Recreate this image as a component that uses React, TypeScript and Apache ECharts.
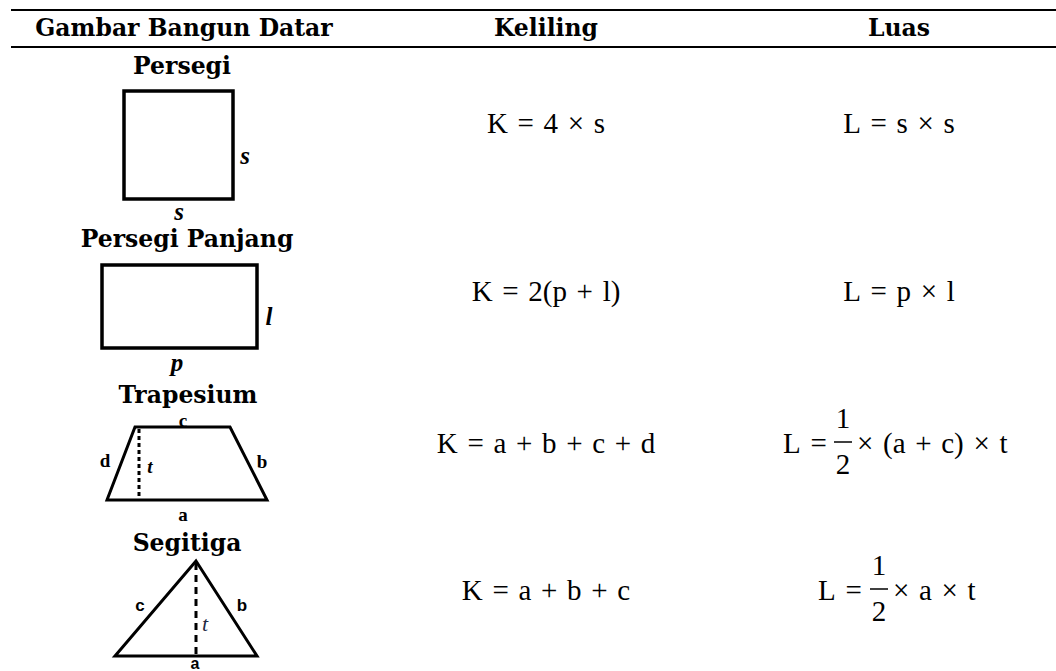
import React, { useEffect, useRef } from "react";
import * as echarts from "echarts";

const SP = "\u2004";
const headers = ["Gambar Bangun Datar", "Keliling", "Luas"];
const shapeNames = ["Persegi", "Persegi Panjang", "Trapesium", "Segitiga"];
const kelilingFormulas = ["K = 4 × s", "K = 2(p + l)", "K = a + b + c + d", "K = a + b + c"];
// Luas: [prefix, numerator, denominator, suffix] ; empty numerator = no fraction
const luasPrefix = ["L = s × s", "L = p × l", "L =", "L ="];
const luasNum = ["", "", "1", "1"];
const luasDen = ["", "", "2", "2"];
const luasSuffix = ["", "", "× (a + c) × t", "× a × t"];

const HEAD_FONT = "'DejaVu Serif', serif";
const MATH_FONT = "'Liberation Serif', serif";
const sp = (s: string) => s.split(" ").join(SP);

export default function App() {
  const ref = useRef<HTMLDivElement>(null);
  useEffect(() => {
    if (!ref.current) return;
    const chart = echarts.init(ref.current, null, { renderer: "svg" });
    const g: any[] = [];
    const txt = (text: string, x: number, y: number, o: any = {}) =>
      g.push({
        type: "text",
        x,
        y,
        style: {
          text,
          fill: o.fill || "#000",
          fontFamily: o.fontFamily || HEAD_FONT,
          fontSize: o.fontSize || 22,
          fontWeight: o.fontWeight || "normal",
          fontStyle: o.fontStyle || "normal",
          textAlign: o.align || "center",
          textVerticalAlign: "middle",
        },
      });
    const hline = (y: number) =>
      g.push({ type: "line", shape: { x1: 11, y1: y, x2: 1056, y2: y }, style: { stroke: "#000", lineWidth: 2.2 } });

    hline(10);
    hline(47);
    const colX = [184, 546, 899];
    headers.forEach((h, i) => txt(h, colX[i], 28, { fontWeight: "bold", fontSize: 23.5 }));

    const nameY = [66, 239, 395, 543];
    const nameX = [182, 187, 188, 187];
    shapeNames.forEach((n, i) => txt(n, nameX[i], nameY[i], { fontWeight: "bold", fontSize: 23.5 }));

    const rowY = [123, 291, 443, 590];
    kelilingFormulas.forEach((f, i) => txt(sp(f), colX[1], rowY[i], { fontFamily: MATH_FONT, fontSize: 29 }));

    const fracLeft = [0, 0, 783, 818];
    const fracX = [0, 0, 843, 879];
    luasPrefix.forEach((p, i) => {
      if (!luasNum[i]) {
        txt(sp(p), colX[2], rowY[i], { fontFamily: MATH_FONT, fontSize: 29 });
      } else {
        const y = rowY[i];
        txt(sp(p), fracLeft[i], y, { fontFamily: MATH_FONT, fontSize: 29, align: "left" });
        txt(luasNum[i], fracX[i], y - 25, { fontFamily: MATH_FONT, fontSize: 29 });
        txt(luasDen[i], fracX[i], y + 21, { fontFamily: MATH_FONT, fontSize: 29 });
        g.push({
          type: "line",
          shape: { x1: fracX[i] - 9, y1: y - 1, x2: fracX[i] + 9, y2: y - 1 },
          style: { stroke: "#000", lineWidth: 1.5 },
        });
        txt(sp(luasSuffix[i]), fracX[i] + 14, y, { fontFamily: MATH_FONT, fontSize: 29, align: "left" });
      }
    });

    const black = { stroke: "#000", fill: "none", lineWidth: 3.5 };
    const biLbl = { fontFamily: MATH_FONT, fontWeight: "bold", fontStyle: "italic", fontSize: 25 };
    // Persegi
    g.push({ type: "rect", shape: { x: 124, y: 91, width: 109, height: 108 }, style: black });
    txt("s", 245, 155, biLbl);
    txt("s", 179, 211, biLbl);
    // Persegi Panjang
    g.push({ type: "rect", shape: { x: 102, y: 265, width: 155, height: 83 }, style: black });
    txt("l", 269, 316, biLbl);
    txt("p", 177, 362, biLbl);
    // Trapesium
    g.push({
      type: "polygon",
      shape: { points: [[135, 427], [230, 427], [267, 500], [107, 500]] },
      style: { stroke: "#000", fill: "none", lineWidth: 3, lineJoin: "miter" },
    });
    g.push({
      type: "line",
      shape: { x1: 139, y1: 429, x2: 139, y2: 499 },
      style: { stroke: "#000", lineWidth: 3, lineDash: [4, 3] },
    });
    const trapLbl = { fontFamily: MATH_FONT, fontWeight: "bold", fontSize: 19 };
    txt("c", 183, 420, trapLbl);
    txt("d", 105, 460, trapLbl);
    txt("b", 262, 461, trapLbl);
    txt("a", 183, 514, trapLbl);
    txt("t", 150, 466, { fontFamily: MATH_FONT, fontWeight: "bold", fontStyle: "italic", fontSize: 19 });
    // Segitiga
    g.push({
      type: "polygon",
      shape: { points: [[196, 561], [257, 656], [115, 656]] },
      style: { stroke: "#000", fill: "none", lineWidth: 3, lineJoin: "miter" },
    });
    g.push({
      type: "line",
      shape: { x1: 196, y1: 563, x2: 196, y2: 656 },
      style: { stroke: "#000", lineWidth: 3, lineDash: [7, 5] },
    });
    const triLbl = { fontFamily: "'Liberation Sans', sans-serif", fontWeight: "bold", fontSize: 17 };
    txt("c", 140, 605, triLbl);
    txt("b", 242, 605, triLbl);
    txt("a", 195, 663, { ...triLbl, fontSize: 16 });
    txt("t", 205, 623, { fontFamily: MATH_FONT, fontStyle: "italic", fontSize: 22, fill: "#1f2a44" });

    chart.setOption({ animation: false, backgroundColor: "#fff", graphic: { elements: g } });
    return () => chart.dispose();
  }, []);
  return (
    <div
      ref={ref}
      style={{ position: "fixed", left: 0, top: 0, width: 1056, height: 671, background: "#fff" }}
    />
  );
}
